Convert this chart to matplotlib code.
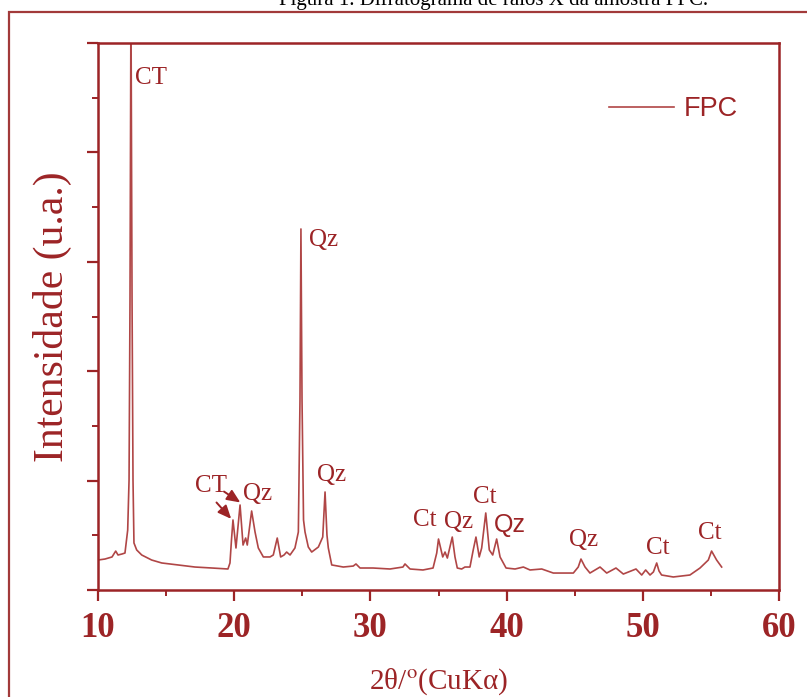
import matplotlib
matplotlib.use("Agg")
import matplotlib.pyplot as plt
from matplotlib.patches import Rectangle
from matplotlib.ticker import MultipleLocator

# ---- data (2theta in degrees, intensity in arbitrary units) ----
two_theta = [10.00, 10.51, 11.03, 11.30, 11.47, 11.76, 11.98, 12.18, 12.28, 12.35,
             12.42, 12.50, 12.57, 12.64, 12.84, 13.21, 13.94, 14.68, 15.87, 17.12,
             18.37, 19.54, 19.69, 19.80, 19.91, 20.13, 20.43, 20.65, 20.84, 20.96,
             21.28, 21.53, 21.77, 22.14, 22.63, 22.87, 23.16, 23.41, 23.66, 23.85,
             24.10, 24.46, 24.71, 24.83, 24.90, 24.98, 25.09, 25.20, 25.44, 25.69,
             26.18, 26.50, 26.67, 26.81, 26.91, 27.16, 28.01, 28.74, 28.94, 29.24,
             30.19, 31.44, 32.39, 32.54, 32.91, 33.86, 34.60, 34.87, 35.00, 35.31,
             35.48, 35.65, 36.01, 36.21, 36.38, 36.70, 36.94, 37.31, 37.55, 37.75,
             37.99, 38.17, 38.47, 38.73, 38.98, 39.27, 39.52, 39.96, 40.62, 41.23,
             41.72, 42.58, 43.43, 44.90, 45.26, 45.46, 45.76, 46.12, 46.86, 47.35,
             48.03, 48.57, 49.50, 49.92, 50.21, 50.53, 50.78, 51.02, 51.19, 51.38,
             52.24, 53.46, 54.20, 54.81, 55.05, 55.42, 55.79]
intensity = [274, 283, 302, 356, 320, 329, 338, 548, 1005, 2651,
             5400, 2651, 1005, 430, 366, 320, 274, 247, 229, 210,
             201, 192, 247, 457, 640, 384, 777, 411, 475, 411,
             722, 530, 384, 302, 302, 320, 475, 302, 320, 347,
             320, 384, 530, 1737, 3300, 1737, 640, 530, 393, 347,
             393, 484, 896, 503, 384, 229, 210, 219, 238, 201,
             201, 192, 210, 238, 192, 183, 201, 338, 466, 302,
             347, 292, 484, 302, 201, 192, 210, 210, 366, 484,
             302, 384, 704, 366, 320, 466, 302, 201, 192, 210,
             183, 192, 155, 155, 210, 283, 210, 155, 210, 155,
             201, 146, 192, 137, 183, 137, 165, 247, 174, 137,
             119, 137, 201, 274, 356, 274, 210]

series_name = "FPC"
x_ticks = [10, 20, 30, 40, 50, 60]

# peak labels: (text, 2theta, intensity, font)
peak_labels = [("CT", 12.72, 4680, "serif"),
               ("Qz", 25.49, 3199, "serif"),
               ("CT", 17.12, 950, "serif"),
               ("Qz", 20.65, 877, "serif"),
               ("Qz", 26.08, 1051, "serif"),
               ("Ct", 33.13, 640, "serif"),
               ("Qz", 35.40, 622, "serif"),
               ("Ct", 37.53, 850, "serif"),
               ("Qz", 39.07, 594, "sans"),
               ("Qz", 44.58, 457, "serif"),
               ("Ct", 50.23, 384, "serif"),
               ("Ct", 54.05, 521, "serif")]

# arrows for the CT doublet: (tail x, tail y, head x, head y)
arrows = [(18.70, 800, 19.78, 650),
          (19.25, 900, 20.45, 800)]

# ---- style ----
W, H = 807, 697
DPI = 100
dark = "#9C2426"
line_c = "#B04646"

plt.rcParams["mathtext.fontset"] = "stix"
fig = plt.figure(figsize=(W / DPI, H / DPI), dpi=DPI)
fig.patch.set_facecolor("white")

# document frame and (partially visible) caption
fig.patches.append(Rectangle((9 / W, -0.1), 1.2, 1 - 12 / H + 0.1,
                             transform=fig.transFigure, fill=False,
                             edgecolor="#A23A3A", linewidth=1.6))
fig.text(494 / W, 1 - 5 / H, "Figura 1. Difratograma de raios X da amostra FPC.",
         ha="center", va="baseline", fontsize=15, family="Liberation Serif",
         color="black")

ax = fig.add_axes([98 / W, 1 - 590 / H, (779 - 98) / W, (590 - 43) / H])
ax.plot(two_theta, intensity, color=line_c, lw=1.2, label=series_name)
ax.set_xlim(10, 60)
ax.set_ylim(0, 5000)

for s in ax.spines.values():
    s.set_color(dark)
    s.set_linewidth(1.8)

ax.set_xticks(x_ticks)
ax.xaxis.set_minor_locator(MultipleLocator(5))
ax.yaxis.set_major_locator(MultipleLocator(1000))
ax.yaxis.set_minor_locator(MultipleLocator(500))
ax.tick_params(axis="both", which="major", direction="out", length=8,
               width=1.6, color=dark)
ax.tick_params(axis="both", which="minor", direction="out", length=4,
               width=1.4, color=dark)
ax.tick_params(axis="y", which="both", labelleft=False)
ax.tick_params(axis="x", which="major", pad=8)
for lbl in ax.get_xticklabels():
    lbl.set_fontfamily("Liberation Serif")
    lbl.set_fontweight("bold")
    lbl.set_fontsize(25)
    lbl.set_color(dark)

ax.set_xlabel(r"2θ/$^{\mathrm{o}}$(CuKα)", fontsize=21,
              family="Liberation Serif", color=dark)
ax.xaxis.set_label_coords(0.5, -0.139)
ax.set_ylabel("Intensidade (u.a.)", fontsize=30, family="Liberation Serif",
              color=dark)
ax.yaxis.set_label_coords(-0.038, 0.5)

for txt, xv, yv, fam in peak_labels:
    family = "Liberation Sans" if fam == "sans" else "Liberation Serif"
    ax.text(xv, yv, txt, ha="left", va="center", fontsize=18,
            family=family, color=dark)

for x0, y0, x1, y1 in arrows:
    ax.annotate("", xy=(x1, y1), xytext=(x0, y0),
                arrowprops=dict(arrowstyle="-|>,head_length=0.8,head_width=0.35",
                                color=dark, lw=1.4, shrinkA=0, shrinkB=0))

leg = ax.legend(loc="center left", bbox_to_anchor=(0.750, 0.879),
                frameon=False, borderaxespad=0, borderpad=0,
                handlelength=2.4, handletextpad=0.38,
                prop={"family": "Liberation Sans", "size": 19.5})
for t in leg.get_texts():
    t.set_color(dark)

fig.savefig("out.png", dpi=DPI)
